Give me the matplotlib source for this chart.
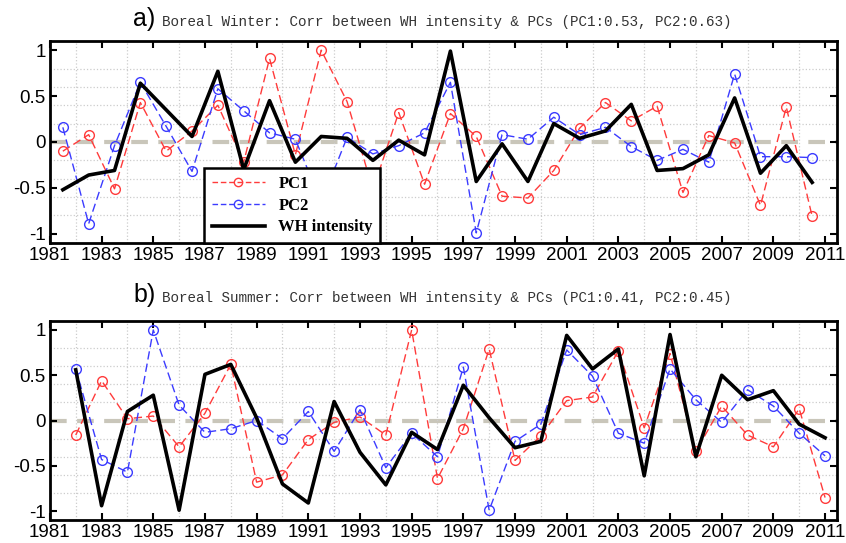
import numpy as np
import matplotlib.pyplot as plt
from matplotlib.lines import Line2D
from matplotlib.ticker import MultipleLocator

# winter: seasons plotted mid-year, summer: on the year
winter_years = np.arange(1981.5, 2011, 1.0)
summer_years = np.arange(1982, 2012, 1)

winter_pc1 = [-0.10, 0.08, -0.51, 0.43, -0.10, 0.12, 0.40, -0.22, 0.91, -0.14,
              1.00, 0.44, -0.52, 0.32, -0.46, 0.31, 0.06, -0.59, -0.61, -0.31,
              0.15, 0.43, 0.23, 0.39, -0.55, 0.07, -0.01, -0.69, 0.38, -0.81]
winter_pc2 = [0.16, -0.89, -0.04, 0.65, 0.17, -0.32, 0.58, 0.34, 0.10, 0.03,
              -0.66, 0.05, -0.13, -0.04, 0.10, 0.65, -0.99, 0.08, 0.03, 0.27,
              0.08, 0.16, -0.05, -0.20, -0.08, -0.22, 0.74, -0.16, -0.16, -0.17]
winter_wh = [-0.52, -0.36, -0.31, 0.64, 0.35, 0.06, 0.77, -0.30, 0.45, -0.22,
             0.06, 0.04, -0.20, 0.02, -0.14, 0.99, -0.43, -0.02, -0.43, 0.20,
             0.04, 0.12, 0.41, -0.31, -0.29, -0.14, 0.48, -0.34, -0.04, -0.44]

summer_pc1 = [-0.16, 0.44, 0.02, 0.05, -0.29, 0.08, 0.62, -0.68, -0.60, -0.21,
              -0.02, 0.04, -0.16, 1.00, -0.64, -0.09, 0.79, -0.44, -0.17, 0.22,
              0.26, 0.77, -0.08, 0.74, -0.34, 0.16, -0.16, -0.29, 0.13, -0.85]
summer_pc2 = [0.57, -0.43, -0.57, 1.00, 0.17, -0.13, -0.09, 0.00, -0.20, 0.10,
              -0.34, 0.12, -0.52, -0.14, -0.40, 0.59, -0.99, -0.23, -0.04, 0.78,
              0.49, -0.14, -0.25, 0.57, 0.23, -0.02, 0.34, 0.16, -0.14, -0.39]
summer_wh = [0.56, -0.94, 0.10, 0.28, -0.99, 0.51, 0.62, 0.03, -0.70, -0.91,
             0.21, -0.35, -0.71, -0.13, -0.32, 0.39, 0.03, -0.30, -0.23, 0.94,
             0.57, 0.79, -0.61, 0.95, -0.40, 0.50, 0.23, 0.33, -0.04, -0.19]

panels = [
    ('a)', 'Boreal Winter: Corr between WH intensity & PCs (PC1:0.53, PC2:0.63)',
     winter_years, winter_pc1, winter_pc2, winter_wh, True),
    ('b)', 'Boreal Summer: Corr between WH intensity & PCs (PC1:0.41, PC2:0.45)',
     summer_years, summer_pc1, summer_pc2, summer_wh, False),
]

plt.rcParams['font.family'] = ['Liberation Sans', 'DejaVu Sans']

fig = plt.figure(figsize=(8.46, 5.43), dpi=100)
boxes = [[0.059, 0.5525, 0.930, 0.372], [0.059, 0.042, 0.930, 0.367]]
label_y = [0.953, 0.443]

red = '#ff3b3b'
blue = '#3b3bff'

for (tag, title, yrs, pc1, pc2, wh, show_leg), box, ty in zip(panels, boxes, label_y):
    ax = fig.add_axes(box)
    ax.axhline(0, color='#c9c6ba', lw=3, ls=(0, (4, 2.5)), zorder=1)
    ax.plot(yrs, pc1, ls='--', color=red, lw=1, marker='o', ms=7,
            mfc='none', mec=red, mew=1, dashes=(6, 3), zorder=3)
    ax.plot(yrs, pc2, ls='--', color=blue, lw=1, marker='o', ms=7,
            mfc='none', mec=blue, mew=1, dashes=(6, 3), zorder=3)
    ax.plot(yrs, wh, color='black', lw=2.6, zorder=4)

    ax.set_xlim(1981, 2011.45)
    ax.set_ylim(-1.1, 1.1)
    ax.set_xticks(range(1981, 2012, 2))
    ax.set_yticks([-1, -0.5, 0, 0.5, 1])
    ax.set_yticklabels(['-1', '-0.5', '0', '0.5', '1'])
    ax.xaxis.set_minor_locator(MultipleLocator(1))
    ax.yaxis.set_minor_locator(MultipleLocator(0.2))
    ax.grid(which='minor', color='#cccccc', ls=':', lw=0.9)
    ax.tick_params(which='major', direction='in', length=5, width=1.5,
                   top=True, right=True, labelsize=13.5, pad=3)
    ax.tick_params(which='minor', length=0)
    for s in ax.spines.values():
        s.set_linewidth(2)

    fig.text(box[0] + 0.0985, ty, tag, fontsize=18, ha='left', va='baseline')
    fig.text(box[0] + 0.133, ty, title, fontsize=10.3, ha='left',
             va='baseline', family='Liberation Mono', color='#333333')

    if show_leg:
        handles = [
            Line2D([], [], ls='--', color=red, lw=1, marker='o', ms=6, mfc='none', dashes=(4, 2)),
            Line2D([], [], ls='--', color=blue, lw=1, marker='o', ms=6, mfc='none', dashes=(4, 2)),
            Line2D([], [], color='black', lw=2.6),
        ]
        leg = ax.legend(handles, ['PC1', 'PC2', 'WH intensity'],
                        loc='lower left', bbox_to_anchor=(0.196, 0.0),
                        borderaxespad=0, fancybox=False, framealpha=1,
                        edgecolor='black', handlelength=3.2,
                        prop={'family': 'Liberation Serif', 'weight': 'bold', 'size': 12},
                        labelspacing=0.35, borderpad=0.45)
        leg.get_frame().set_linewidth(1.8)
        leg.set_zorder(10)

fig.savefig('out.png', dpi=100)
